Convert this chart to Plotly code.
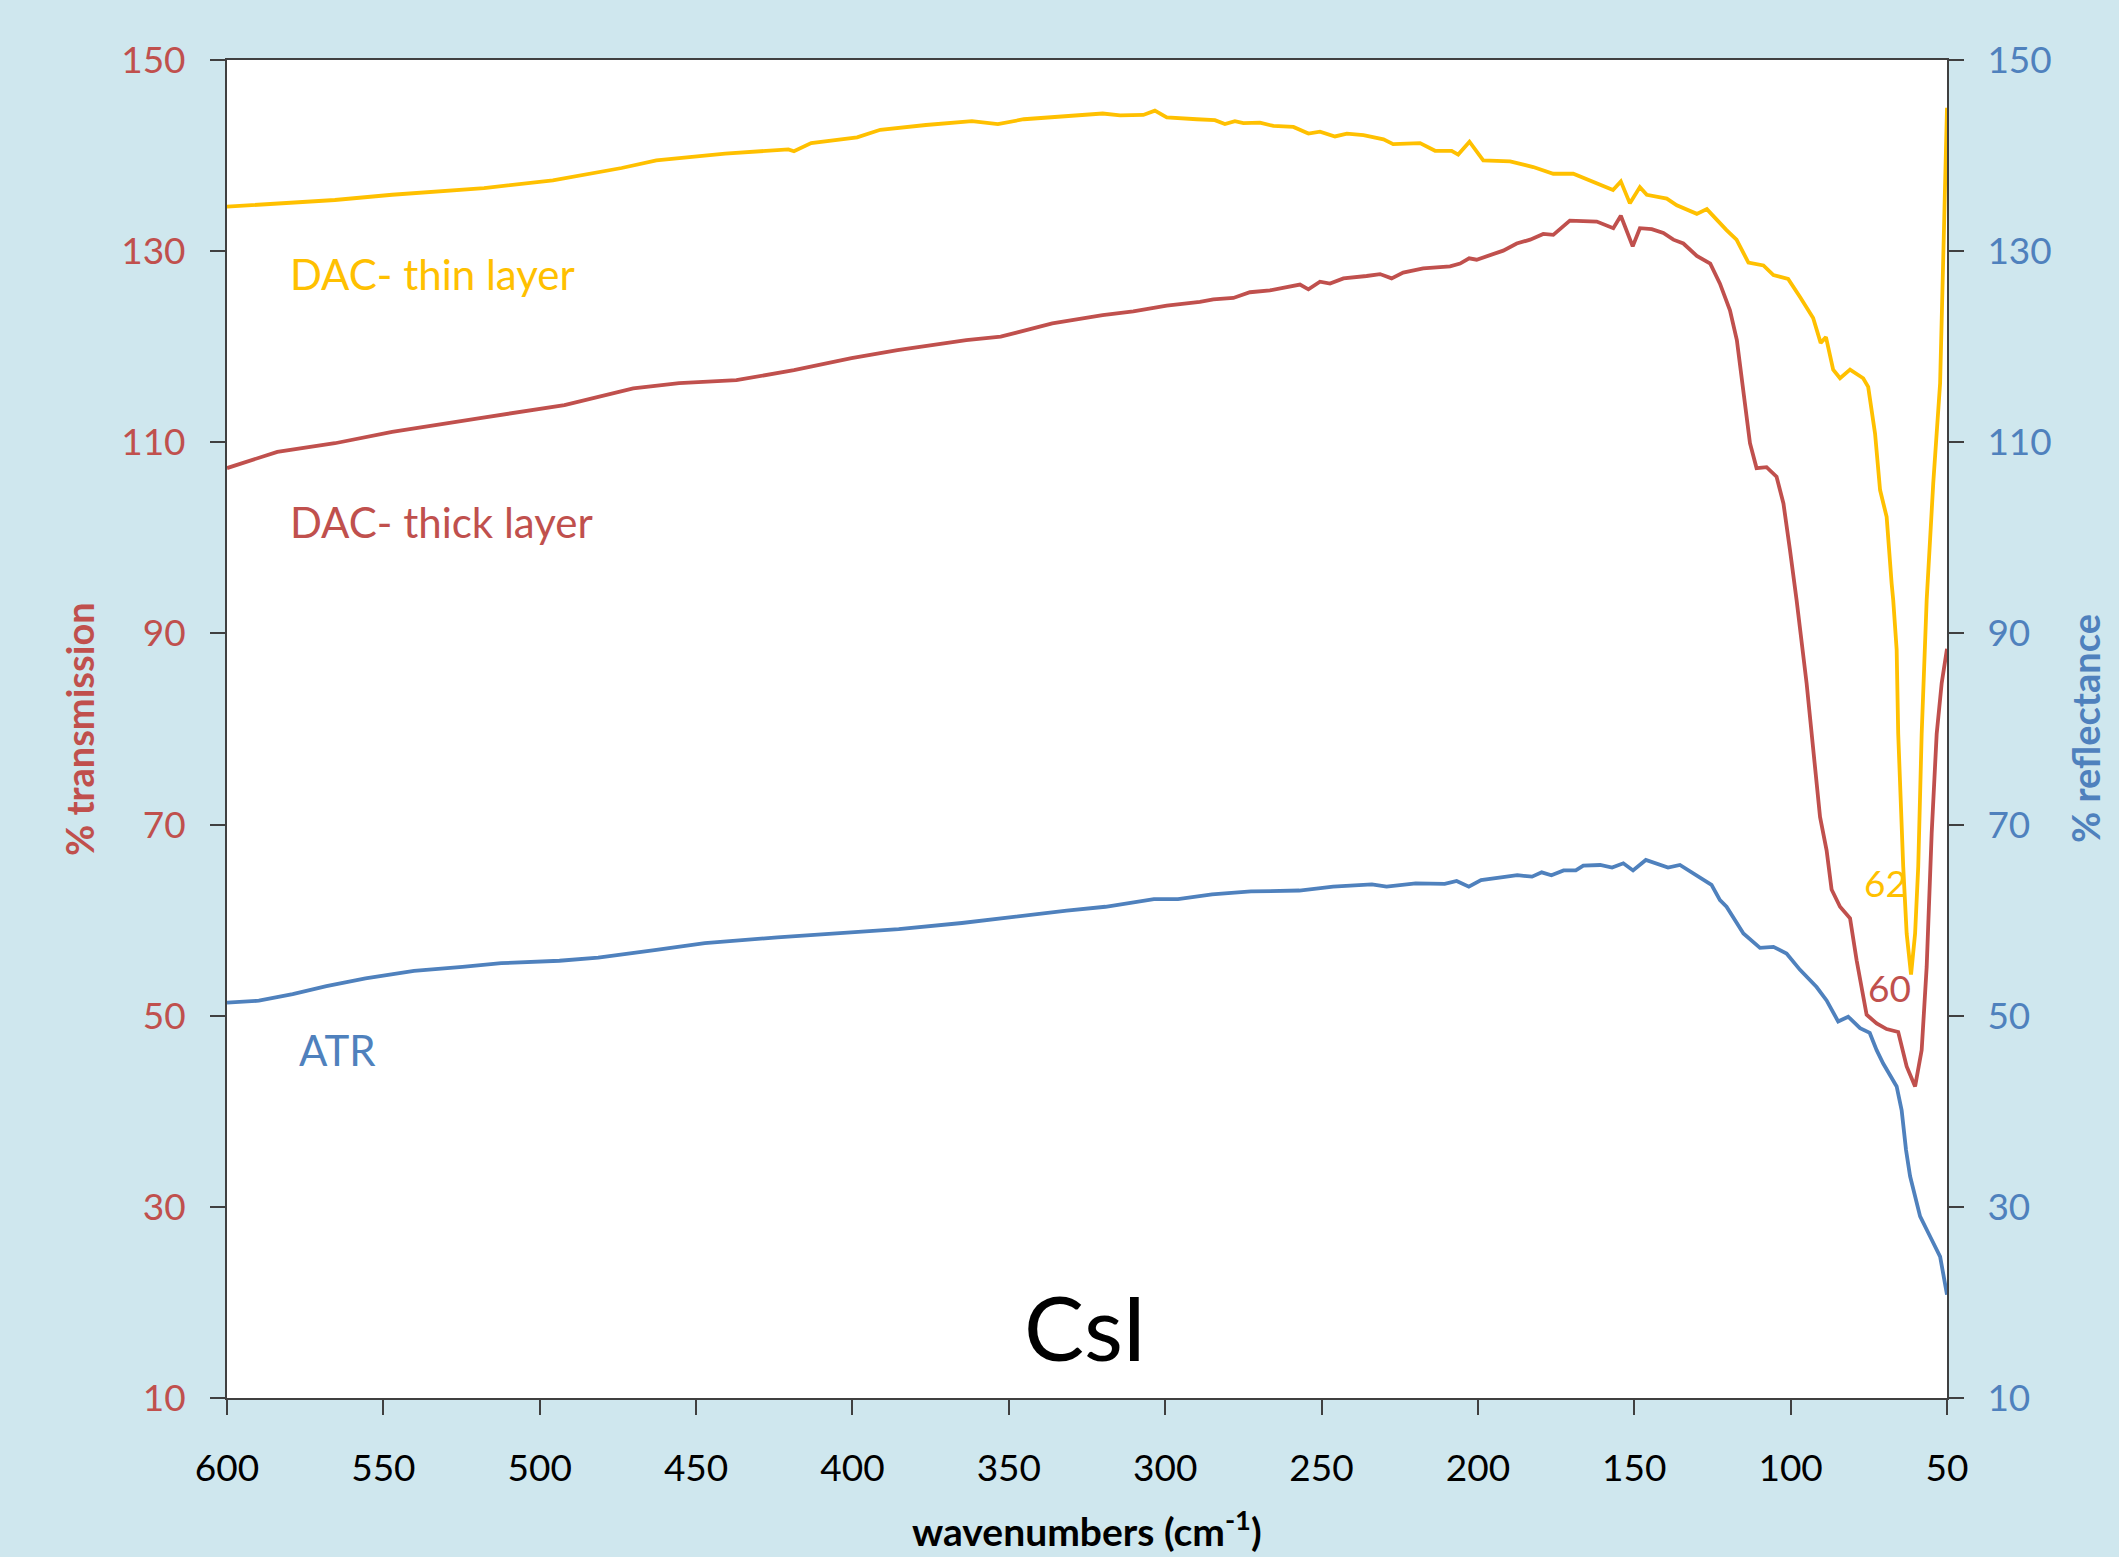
import plotly.graph_objects as go

# ---------------- data ----------------
wn_thin = [600, 565.5, 547.2, 517.8, 495.8, 473.8, 462.7, 440.7, 420.5, 418.7, 413.2, 398.5,
           391.1, 376.5, 361.8, 353.5, 345.2, 330.6, 320, 314.4, 307.0, 303.3, 299.5, 289.9,
           284.1, 280.9, 277.7, 275.0, 269.7, 265.4, 259.0, 254.2, 250.5, 245.7, 241.9, 236.6,
           230.2, 227.1, 218.5, 213.7, 208.4, 206.3, 202.7, 198.3, 189.7, 182.3, 175.9, 169.5,
           163.2, 156.8, 154.3, 151.4, 148.2, 146.0, 139.6, 136.4, 130.0, 126.8, 120.5, 117.3,
           113.5, 108.7, 105.5, 100.8, 97.0, 92.8, 90.4, 88.7, 86.4, 84.2, 81.0, 76.8, 75.2,
           73.0, 71.4, 69.3, 67.7, 67.2, 66.1, 65.6, 64.0, 62.9, 61.5, 60.2, 59.2, 58.1, 56.5,
           54.4, 52.2, 51.2, 50.0]
thin = [134.65, 135.35, 135.9, 136.6, 137.4, 138.7, 139.5, 140.2, 140.65, 140.45, 141.3, 141.9,
        142.7, 143.2, 143.6, 143.3, 143.8, 144.1, 144.4, 144.2, 144.25, 144.7, 144.0, 143.8,
        143.7, 143.3, 143.6, 143.4, 143.45, 143.1, 143.0, 142.3, 142.5, 142.0, 142.3, 142.15,
        141.7, 141.2, 141.3, 140.5, 140.5, 140.1, 141.45, 139.5, 139.4, 138.8, 138.1, 138.1,
        137.3, 136.4, 137.3, 135.0, 136.7, 135.9, 135.5, 134.8, 133.9, 134.4, 132.2, 131.2,
        128.8, 128.5, 127.5, 127.1, 125.2, 123.0, 120.4, 121.0, 117.6, 116.7, 117.6, 116.7, 115.8,
        110.9, 105.0, 102.2, 95.2, 93.5, 88.3, 79.5, 65.6, 58.6, 54.3, 58.6, 65.6, 79.5, 93.5,
        105.7, 116.2, 130.1, 145.0]

wn_thick = [600, 583.9, 565.5, 547.2, 519.6, 492.1, 470.1, 455.4, 437.1, 418.7, 400.3, 385.6,
            363.6, 352.6, 336.1, 320, 310.2, 299.5, 288.9, 284.6, 278.2, 272.9, 266.5, 259.0,
            256.9, 254.2, 250.5, 247.3, 243.0, 235.6, 231.3, 227.6, 223.9, 217.5, 208.9, 205.7,
            202.8, 200.4, 196.1, 191.9, 187.6, 183.3, 179.1, 175.9, 170.6, 165.2, 162.0, 156.7,
            154.3, 150.5, 148.2, 144.4, 140.7, 137.5, 134.3, 130.0, 125.7, 122.6, 119.4, 117.2,
            115.1, 113.0, 110.9, 107.7, 104.5, 102.3, 100.2, 98.1, 94.9, 92.7, 90.6, 88.5, 86.9,
            84.2, 81.0, 78.9, 75.7, 72.5, 69.3, 65.6, 62.9, 60.2, 58.1, 56.5, 54.9, 53.3, 51.7,
            50.0]
thick = [107.3, 109.0, 109.9, 111.1, 112.5, 113.9, 115.65, 116.2, 116.5, 117.55, 118.8, 119.65,
         120.7, 121.05, 122.45, 123.3, 123.7, 124.3, 124.7, 124.95, 125.1, 125.7, 125.9, 126.4,
         126.5, 126.0, 126.8, 126.6, 127.15, 127.4, 127.6, 127.15, 127.75, 128.2, 128.4, 128.7,
         129.25, 129.1, 129.6, 130.05, 130.8, 131.2, 131.8, 131.7, 133.2, 133.1, 133.1, 132.4,
         133.7, 130.5, 132.4, 132.3, 131.9, 131.2, 130.8, 129.5, 128.7, 126.6, 123.8, 120.7,
         115.5, 109.9, 107.3, 107.4, 106.4, 103.6, 98.7, 93.5, 84.8, 77.8, 70.8, 67.3, 63.2,
         61.4, 60.2, 55.8, 50.1, 49.2, 48.6, 48.3, 44.7, 42.6, 46.4, 55.1, 69.1, 79.5, 84.8,
         88.4]

wn_atr = [600, 589.8, 579.0, 568.2, 555.7, 540.2, 524.7, 512.3, 493.7, 481.3, 462.7, 447.2,
          424.0, 403.8, 385.2, 365.0, 350.1, 331.5, 319.1, 303.6, 295.9, 285.0, 272.6, 257.1,
          246.3, 233.9, 229.2, 219.9, 210.6, 206.8, 202.9, 199.0, 192.0, 187.4, 182.7, 179.6,
          176.5, 172.6, 168.7, 166.3, 160.9, 157.1, 153.5, 150.4, 146.3, 139.2, 135.4, 129.9,
          125.3, 122.6, 120.5, 115.1, 109.8, 105.5, 101.3, 97.0, 91.7, 88.5, 84.8, 81.6, 77.8,
          74.7, 72.5, 70.4, 66.1, 64.5, 63.1, 61.8, 58.6, 55.4, 52.2, 50.0]
atr = [51.36, 51.57, 52.27, 53.1, 53.9, 54.7, 55.1, 55.5, 55.75, 56.07, 56.9, 57.6,
       58.2, 58.6, 59.06, 59.7, 60.3, 61.0, 61.4, 62.2, 62.2, 62.7, 63.0, 63.1,
       63.5, 63.75, 63.5, 63.85, 63.8, 64.1, 63.5, 64.2, 64.5, 64.7, 64.55, 65.0,
       64.7, 65.2, 65.2, 65.7, 65.77, 65.5, 65.95, 65.2, 66.3, 65.5, 65.77, 64.7,
       63.7, 62.1, 61.4, 58.6, 57.1, 57.2, 56.5, 54.8, 53.0, 51.6, 49.4, 49.9, 48.7,
       48.2, 46.4, 45.0, 42.6, 40.1, 35.95, 33.2, 29.0, 26.9, 24.8, 20.8]

x_ticks = [600, 550, 500, 450, 400, 350, 300, 250, 200, 150, 100, 50]
y_ticks = [10, 30, 50, 70, 90, 110, 130, 150]

# ---------------- styling ----------------
YELLOW = '#FFC000'
RED = '#C0504D'
BLUE = '#4F81BD'
AXIS = '#404040'
BG = '#CFE7EE'
FONT = 'Lato'

fig = go.Figure()
fig.add_trace(go.Scatter(x=wn_thin, y=thin, mode='lines',
                         line=dict(color=YELLOW, width=3.8), yaxis='y'))
fig.add_trace(go.Scatter(x=wn_thick, y=thick, mode='lines',
                         line=dict(color=RED, width=3.8), yaxis='y'))
fig.add_trace(go.Scatter(x=wn_atr, y=atr, mode='lines',
                         line=dict(color=BLUE, width=3.8), yaxis='y2'))

axis_common = dict(ticks='outside', ticklen=15, tickwidth=2, tickcolor=AXIS,
                   showline=True, linecolor=AXIS, linewidth=2,
                   showgrid=False, zeroline=False)

fig.update_layout(
    width=2119, height=1557,
    margin=dict(l=227, r=172, t=60, b=159),
    paper_bgcolor=BG, plot_bgcolor='white', showlegend=False,
    font=dict(family=FONT, size=37, color='black'),
    xaxis=dict(range=[600, 50], tickvals=x_ticks, mirror=True, ticklabelstandoff=22,
               tickfont=dict(family=FONT, size=37, color='black'), **axis_common),
    yaxis=dict(range=[10, 150], tickvals=y_ticks, ticklabelstandoff=17,
               tickfont=dict(family=FONT, size=37, color=RED), **axis_common),
    yaxis2=dict(range=[10, 150], tickvals=y_ticks, overlaying='y', side='right',
                ticklabelstandoff=16,
                tickfont=dict(family=FONT, size=37, color=BLUE), **axis_common),
)

ann = [
    dict(x=580.5, y=127.6, text='DAC- thin layer', color=YELLOW, size=42, xanchor='left'),
    dict(x=580.5, y=101.7, text='DAC- thick layer', color=RED, size=42, xanchor='left'),
    dict(x=577.5, y=46.4, text='ATR', color=BLUE, size=42, xanchor='left'),
    dict(x=77.3, y=63.9, text='62', color=YELLOW, size=37, xanchor='left'),
    dict(x=76.0, y=53.0, text='60', color=RED, size=37, xanchor='left'),
    dict(x=325.6, y=17.5, text='CsI', color='black', size=90, xanchor='center'),
]
for a in ann:
    fig.add_annotation(x=a['x'], y=a['y'], xref='x', yref='y', text=a['text'],
                       showarrow=False, xanchor=a['xanchor'], yanchor='middle',
                       font=dict(family=FONT, size=a['size'], color=a['color']))

fig.add_annotation(x=(79 - 227) / 1720, y=0.5, xref='paper', yref='paper',
                   text='% transmission', textangle=-90, showarrow=False,
                   xanchor='center', yanchor='middle',
                   font=dict(family=FONT, size=38, color=RED, weight='bold'))
fig.add_annotation(x=(2085 - 227) / 1720, y=0.5, xref='paper', yref='paper',
                   text='% reflectance', textangle=-90, showarrow=False,
                   xanchor='center', yanchor='middle',
                   font=dict(family=FONT, size=38, color=BLUE, weight='bold'))
fig.add_annotation(x=0.5, y=(1398 - 1528) / 1338, xref='paper', yref='paper',
                   text='wavenumbers (cm<sup>-1</sup>)', showarrow=False,
                   xanchor='center', yanchor='middle',
                   font=dict(family=FONT, size=39, color='black', weight='bold'))

fig.write_html('out.html')
